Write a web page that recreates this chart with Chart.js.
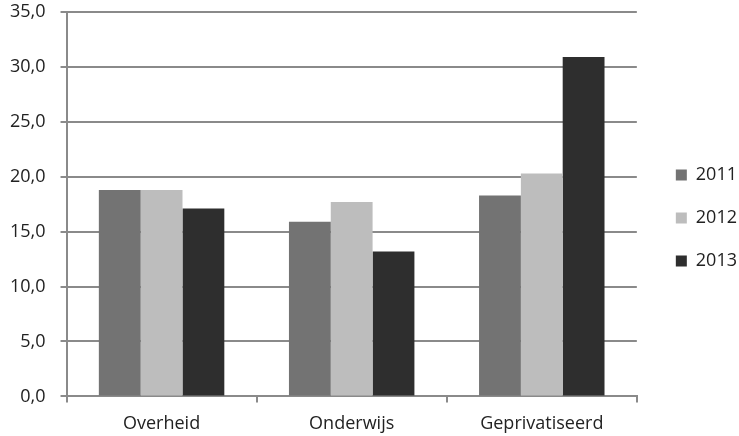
<!DOCTYPE html>
<html>
<head>
<meta charset="utf-8">
<script src="https://cdn.jsdelivr.net/npm/chart.js@4"></script>
<style>
  html, body { margin: 0; padding: 0; background: #fff; }
  #wrap { width: 739px; height: 436px; }
</style>
</head>
<body>
<div id="wrap"><canvas id="c" width="739" height="436"></canvas></div>
<script>
const categories = ['Overheid', 'Onderwijs', 'Geprivatiseerd'];
const years = ['2011', '2012', '2013'];
const values2011 = [18.8, 15.9, 18.3];
const values2012 = [18.8, 17.7, 20.3];
const values2013 = [17.1, 13.2, 30.9];
const yTicks = [0, 5, 10, 15, 20, 25, 30, 35];

const colors = ['#737373', '#bdbdbd', '#2e2e2e'];
const series = [values2011, values2012, values2013];

const fontFamily = '"Open Sans", Lato, sans-serif';
const axisGray = '#8a8a8a';

// Nudge the legend: a bit further from the plot area and slightly higher.
const legendShift = {
  id: 'legendShift',
  afterLayout(chart) {
    const lg = chart.legend;
    if (lg) {
      lg.left += 14; lg.right += 14;
      lg.top -= 5; lg.bottom -= 5;
    }
  }
};

new Chart(document.getElementById('c'), {
  type: 'bar',
  data: {
    labels: categories,
    datasets: series.map((vals, i) => ({
      label: years[i],
      data: vals,
      backgroundColor: colors[i],
      borderWidth: 0,
      barPercentage: 1.0,
      categoryPercentage: 0.66
    }))
  },
  plugins: [legendShift],
  options: {
    responsive: false,
    animation: false,
    devicePixelRatio: 1,
    layout: { padding: { top: 0, right: 6, bottom: -10, left: -5 } },
    plugins: {
      tooltip: { enabled: false },
      legend: {
        position: 'right',
        align: 'center',
        labels: {
          boxWidth: 11,
          boxHeight: 11,
          padding: 25,
          color: '#222',
          font: { family: fontFamily, size: 18 }
        }
      }
    },
    scales: {
      x: {
        grid: {
          display: true,
          drawOnChartArea: false,
          drawTicks: true,
          tickLength: 6,
          color: axisGray,
          lineWidth: 2,
          offset: true
        },
        border: { display: true, color: axisGray, width: 2 },
        ticks: {
          color: '#222',
          padding: 11,
          font: { family: fontFamily, size: 18 }
        }
      },
      y: {
        min: 0,
        max: 35,
        afterBuildTicks: (axis) => { axis.ticks = yTicks.map(v => ({ value: v })); },
        // keep only room for half a label above the top gridline
        afterFit: (scale) => { scale.paddingTop = 12; },
        grid: {
          color: axisGray,
          lineWidth: 2,
          tickLength: 6
        },
        border: { display: true, color: axisGray, width: 2 },
        ticks: {
          color: '#222',
          padding: 15,
          font: { family: fontFamily, size: 18 },
          callback: (v) => v.toFixed(1).replace('.', ',')
        }
      }
    }
  }
});
</script>
</body>
</html>
